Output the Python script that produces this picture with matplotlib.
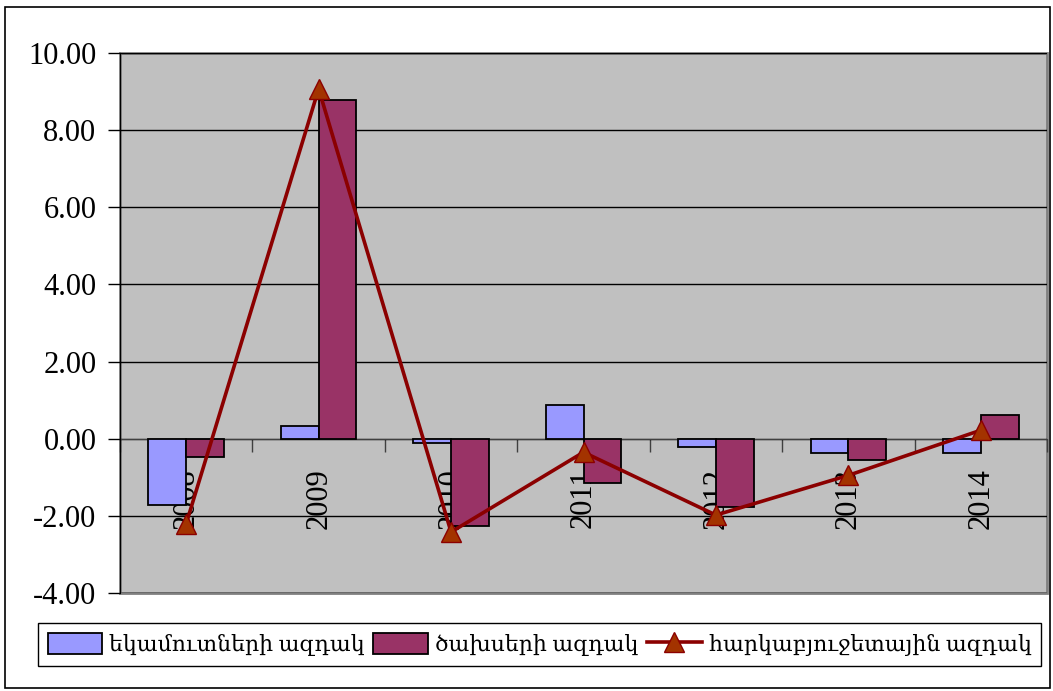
import matplotlib
matplotlib.use('Agg')
import matplotlib.pyplot as plt
from matplotlib.patches import Rectangle
import numpy as np

plt.rcParams.update({
    'font.family': ['Liberation Serif', 'DejaVu Serif'],
    'font.size': 22,
})

# ── Data ───────────────────────────────────────────────────────────────
years = ['2008', '2009', '2010', '2011', '2012', '2013', '2014']
revenue_impulse = [-1.71, 0.32, -0.12, 0.87, -0.22, -0.38, -0.38]
spending_impulse = [-0.48, 8.78, -2.26, -1.16, -1.77, -0.56, 0.61]
fiscal_impulse = [-2.20, 9.07, -2.42, -0.35, -1.98, -0.95, 0.22]
series_labels = ['եկամուտների ազդակ', 'ծախսերի ազդակ', 'հարկաբյուջետային ազդակ']

C = {
    'bg': '#C0C0C0',
    'rev': '#9999FF',
    'exp': '#993366',
    'line': '#8B0000',
    'marker': '#A33300',
    'frame': '#808080',
}

fig = plt.figure(figsize=(10.53, 6.91), dpi=100)
ax = fig.add_axes([120 / 1053, 1 - 593 / 691, (1047 - 120) / 1053, (593 - 53) / 691])
ax.set_facecolor(C['bg'])

x = np.arange(len(years))
w = 1 / 3.5
b1 = ax.bar(x - w / 2, revenue_impulse, w, color=C['rev'], edgecolor='black',
            linewidth=1.3, zorder=3, label=series_labels[0])
b2 = ax.bar(x + w / 2, spending_impulse, w, color=C['exp'], edgecolor='black',
            linewidth=1.3, zorder=3, label=series_labels[1])
ln, = ax.plot(x, fiscal_impulse, color=C['line'], linewidth=2.6, marker='^',
              markersize=15, markerfacecolor=C['marker'], markeredgecolor=C['line'],
              markeredgewidth=1.0, zorder=4, label=series_labels[2])

ax.set_xlim(-0.5, len(years) - 0.5)
ax.set_ylim(-4, 10)
ax.set_yticks(np.arange(-4, 10.01, 2))
ax.set_yticklabels([f'{v:.2f}' for v in np.arange(-4, 10.01, 2)])
ax.yaxis.grid(True, color='black', linewidth=1.0, zorder=1)
ax.set_axisbelow(True)

# category axis crosses at zero
ax.spines['bottom'].set_position(('data', 0))
ax.spines['bottom'].set_color('#404040')
ax.spines['bottom'].set_zorder(2)
for s in ['top', 'right']:
    ax.spines[s].set_visible(False)
ax.spines['left'].set_color('black')
ax.add_patch(Rectangle((0, 0), 1, 1, transform=ax.transAxes, fill=False,
                       edgecolor=C['frame'], linewidth=2.0, zorder=0.5, clip_on=False))

ax.set_xticks(x)
ax.set_xticklabels(years, rotation=90, va='top', ha='center')
ax.tick_params(axis='x', which='major', length=0, pad=21)
ax.set_xticks(np.arange(-0.5, len(years) - 0.4, 1), minor=True)
ax.tick_params(axis='x', which='minor', length=9, direction='out', width=1.0, color='#404040')
ax.tick_params(axis='y', length=9, direction='out', width=1.0, pad=8)

# ── Legend ────────────────────────────────────────────────────────────
leg = fig.legend(handles=[b1, b2, ln], labels=series_labels, loc='center',
                 bbox_to_anchor=((32 + 1047) / 2 / 1053, 1 - 644.5 / 691), ncol=3,
                 frameon=True, fancybox=False, edgecolor='black', framealpha=1,
                 borderpad=0.45, borderaxespad=0, handlelength=2.5, handleheight=1.1,
                 handletextpad=0.3, columnspacing=0.4, fontsize=15.8)
leg.get_frame().set_linewidth(1.0)

# outer chart border
fig.patches.append(Rectangle((5 / 1053, 3 / 691), 1045 / 1053, 681 / 691,
                             transform=fig.transFigure, fill=False,
                             edgecolor='black', linewidth=1.2))

fig.savefig('out.png', dpi=100)
